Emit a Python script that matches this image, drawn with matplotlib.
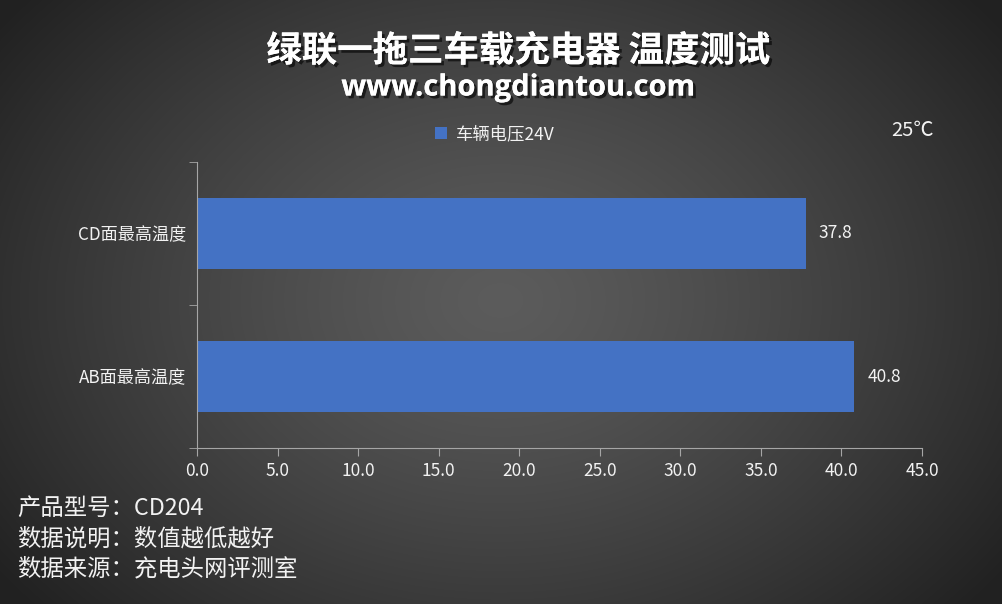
import matplotlib
matplotlib.use("Agg")
import matplotlib.pyplot as plt
import matplotlib.patheffects as pe
import numpy as np

plt.rcParams["font.family"] = ["Noto Sans CJK SC", "DejaVu Sans"]

# data
categories = ["AB面最高温度", "CD面最高温度"]
values = [40.8, 37.8]
series_name = "车辆电压24V"
xticks = [0, 5, 10, 15, 20, 25, 30, 35, 40, 45]

title = "绿联一拖三车载充电器 温度测试"
subtitle = "www.chongdiantou.com"
ambient = "25℃"
notes = ["产品型号：CD204", "数据说明：数值越低越好", "数据来源：充电头网评测室"]

BAR = "#4472C4"
AXIS = "#a6a6a6"
TEXT = "#f2f2f2"

fig = plt.figure(figsize=(10.03, 6.04), dpi=100)

# radial gradient background
bg = fig.add_axes([0, 0, 1, 1], zorder=-10)
yy, xx = np.mgrid[0:604, 0:1003]
r = np.sqrt(((xx - 500) / 560.0) ** 2 + ((yy - 300) / 420.0) ** 2)
shade = np.clip(0.36 - 0.20 * r ** 1.3, 0.13, 0.36)
bg.imshow(np.dstack([shade] * 3), aspect="auto", extent=[0, 1, 0, 1])
bg.axis("off")

ax = fig.add_axes([197 / 1003, 1 - 448 / 604, 725 / 1003, 286 / 604])
ax.patch.set_alpha(0)
pos = np.arange(len(categories))
bars = ax.barh(pos, values, height=0.5, color=BAR, label=series_name)
ax.set_xlim(0, 45)
ax.set_ylim(-0.5, len(categories) - 0.5)

ax.set_xticks(xticks)
ax.set_xticklabels([f"{t:.1f}" for t in xticks], color=TEXT, fontsize=12.5)
ax.set_yticks(pos)
ax.set_yticklabels(categories, color=TEXT, fontsize=12.3)
ax.set_yticks(np.arange(-0.5, len(categories)), minor=True)
ax.tick_params(axis="y", which="major", length=0, pad=8)
ax.tick_params(axis="y", which="minor", length=6, color=AXIS)
ax.tick_params(axis="x", length=6, color=AXIS, pad=4)
for side in ["top", "right"]:
    ax.spines[side].set_visible(False)
for side in ["left", "bottom"]:
    ax.spines[side].set_color(AXIS)

for b, v in zip(bars, values):
    ax.text(v + 0.8, b.get_y() + b.get_height() / 2, f"{v:.1f}",
            va="center", ha="left", color=TEXT, fontsize=12.5)

leg = fig.legend(loc="center", bbox_to_anchor=(495 / 1003, 1 - 134 / 604),
                 frameon=False, fontsize=12.5, handlelength=0.7, handleheight=0.7,
                 handletextpad=0.5)
for t in leg.get_texts():
    t.set_color(TEXT)

shadow = [pe.withSimplePatchShadow(offset=(2, -2), shadow_rgbFace="black", alpha=0.6), pe.Normal()]
fig.text(518 / 1003, 1 - 51 / 604, title, ha="center", va="center", color="white",
         fontsize=25.5, fontweight="bold", path_effects=shadow)
fig.text(518 / 1003, 1 - 88 / 604, subtitle, ha="center", va="center", color="white",
         fontsize=21, fontweight="bold", family=["Open Sans", "DejaVu Sans"],
         path_effects=shadow)
fig.text(912 / 1003, 1 - 130 / 604, ambient, ha="center", va="center",
         color=TEXT, fontsize=14.5)

for i, line in enumerate(notes):
    fig.text(17 / 1003, 1 - (508 + 30.5 * i) / 604, line, ha="left", va="center",
             color=TEXT, fontsize=16.8)

fig.savefig("out.png", dpi=100)
